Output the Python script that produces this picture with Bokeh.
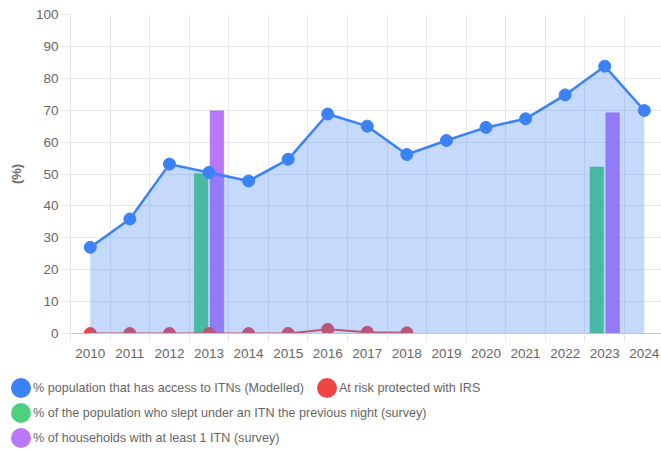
from bokeh.plotting import figure
from bokeh.layouts import column
from bokeh.models import ColumnDataSource, FixedTicker, Legend, LegendItem, Range1d
from bokeh.transform import dodge
from bokeh.embed import file_html
from bokeh.resources import INLINE

# ---- data ----
years = ["2010", "2011", "2012", "2013", "2014", "2015", "2016", "2017",
         "2018", "2019", "2020", "2021", "2022", "2023", "2024"]
itn_access = [27.0, 35.9, 53.1, 50.5, 47.8, 54.6, 68.8, 65.0, 56.1,
              60.5, 64.6, 67.3, 74.8, 83.8, 69.9]
irs_years = ["2010", "2011", "2012", "2013", "2014", "2015", "2016", "2017", "2018"]
irs_protected = [0.0, 0.0, 0.0, 0.0, 0.0, 0.0, 1.3, 0.4, 0.2]
survey_years = ["2013", "2023"]
slept_under_itn = [50.1, 52.2]
households_itn = [69.8, 69.2]
y_ticks = [0, 10, 20, 30, 40, 50, 60, 70, 80, 90, 100]

label_access = "% population that has access to ITNs (Modelled)"
label_irs = "At risk protected with IRS"
label_slept = "% of the population who slept under an ITN the previous night (survey)"
label_hh = "% of households with at least 1 ITN (survey)"

BLUE = "#3b82f6"
RED = "#ef4444"
GREEN = "#22c55e"
PURPLE = "#a855f7"
TXT = "#666666"
GRID = "#e8e8ec"
FONT = "Liberation Sans"

pos = {y: i for i, y in enumerate(years)}
x_all = [pos[y] for y in years]
x_irs = [pos[y] for y in irs_years]
x_survey = [pos[y] for y in survey_years]
boundaries = [i - 0.5 for i in x_all]

p = figure(width=661, height=363, output_backend="svg", toolbar_location=None,
           x_range=Range1d(-0.5, 14.435), y_range=Range1d(0, 100),
           min_border_left=70, min_border_right=0, min_border_top=14,
           min_border_bottom=30)
p.outline_line_color = None
p.background_fill_color = "white"
p.border_fill_color = "white"
p.frame_align = False

# bars (drawn first, below the area fill)
bars = ColumnDataSource(dict(x=x_survey, slept=slept_under_itn, hh=households_itn))
p.vbar(x=dodge("x", -0.2), top="slept", width=0.345, source=bars,
       fill_color=GREEN, fill_alpha=0.8, line_color=GREEN, line_alpha=0.4, line_width=1)
p.vbar(x=dodge("x", 0.2), top="hh", width=0.345, source=bars,
       fill_color=PURPLE, fill_alpha=0.8, line_color=PURPLE, line_alpha=0.4, line_width=1)

# IRS series
p.line(x_irs, irs_protected, line_color=RED, line_width=2)
p.scatter(x_irs, irs_protected, size=12, fill_color=RED, line_color=RED)

# ITN access area + line
p.varea(x=x_all, y1=[0] * len(x_all), y2=itn_access, fill_color=BLUE, fill_alpha=0.3)
p.line(x_all, itn_access, line_color=BLUE, line_width=2.5)
p.scatter(x_all, itn_access, size=12, fill_color=BLUE, line_color=BLUE)

# axes
xa = p.xaxis[0]
xa.ticker = FixedTicker(ticks=x_all, minor_ticks=boundaries)
xa.major_label_overrides = {i: y for i, y in zip(x_all, years)}
xa.major_tick_out = 8
xa.major_tick_in = 0
xa.major_tick_line_color = None
xa.minor_tick_out = 8
xa.minor_tick_in = 0
xa.minor_tick_line_color = GRID
xa.axis_line_color = "#c4c4c4"
xa.major_label_standoff = 7
xa.major_label_text_font = FONT
xa.major_label_text_font_size = "13.5px"
xa.major_label_text_color = TXT

ya = p.yaxis[0]
ya.ticker = FixedTicker(ticks=y_ticks)
ya.major_tick_out = 8
ya.major_tick_in = 0
ya.major_tick_line_color = GRID
ya.minor_tick_line_color = None
ya.axis_line_color = GRID
ya.major_label_standoff = 4
ya.major_label_text_font = FONT
ya.major_label_text_font_size = "13.5px"
ya.major_label_text_color = TXT
ya.axis_label = "(%)"
ya.axis_label_text_font = FONT
ya.axis_label_text_font_size = "13px"
ya.axis_label_text_font_style = "bold"
ya.axis_label_text_color = TXT
ya.axis_label_standoff = 9

p.xgrid.ticker = FixedTicker(ticks=boundaries)
p.xgrid.grid_line_color = GRID
p.ygrid.ticker = FixedTicker(ticks=y_ticks)
p.ygrid.grid_line_color = GRID

# ---- legend figure ----
lf = figure(width=661, height=88, output_backend="svg", toolbar_location=None,
            x_range=Range1d(0, 1), y_range=Range1d(0, 1),
            min_border=0, outline_line_color=None)
lf.frame_align = False
lf.axis.visible = False
lf.grid.visible = False
lf.border_fill_color = "white"
lf.background_fill_color = "white"

NAN = float("nan")

def swatch(color, alpha):
    # invisible renderer used only for a round legend dot
    return lf.ellipse(x=[NAN], y=[NAN], width=20, height=20,
                      width_units="screen", height_units="screen",
                      fill_color=color, fill_alpha=alpha, line_color=None)

sw_blue = swatch(BLUE, 1.0)
sw_red = swatch(RED, 1.0)
sw_green = swatch(GREEN, 0.8)
sw_purple = swatch(PURPLE, 0.8)

def make_legend(items, loc):
    return Legend(items=items, orientation="horizontal", location=loc,
                  border_line_color=None, background_fill_alpha=0,
                  padding=0, margin=0, spacing=10,
                  glyph_width=25, glyph_height=25, label_height=25,
                  label_standoff=0, label_text_font=FONT,
                  label_text_font_size="12.6px", label_text_color=TXT)

lf.add_layout(make_legend([LegendItem(label=label_access, renderers=[sw_blue]),
                           LegendItem(label=label_irs, renderers=[sw_red])], (8, 51)), "center")
lf.add_layout(make_legend([LegendItem(label=label_slept, renderers=[sw_green])], (8, 26)), "center")
lf.add_layout(make_legend([LegendItem(label=label_hh, renderers=[sw_purple])], (8, 1)), "center")

layout = column(p, lf, spacing=0)
open("out.html", "w").write(file_html(layout, INLINE))
